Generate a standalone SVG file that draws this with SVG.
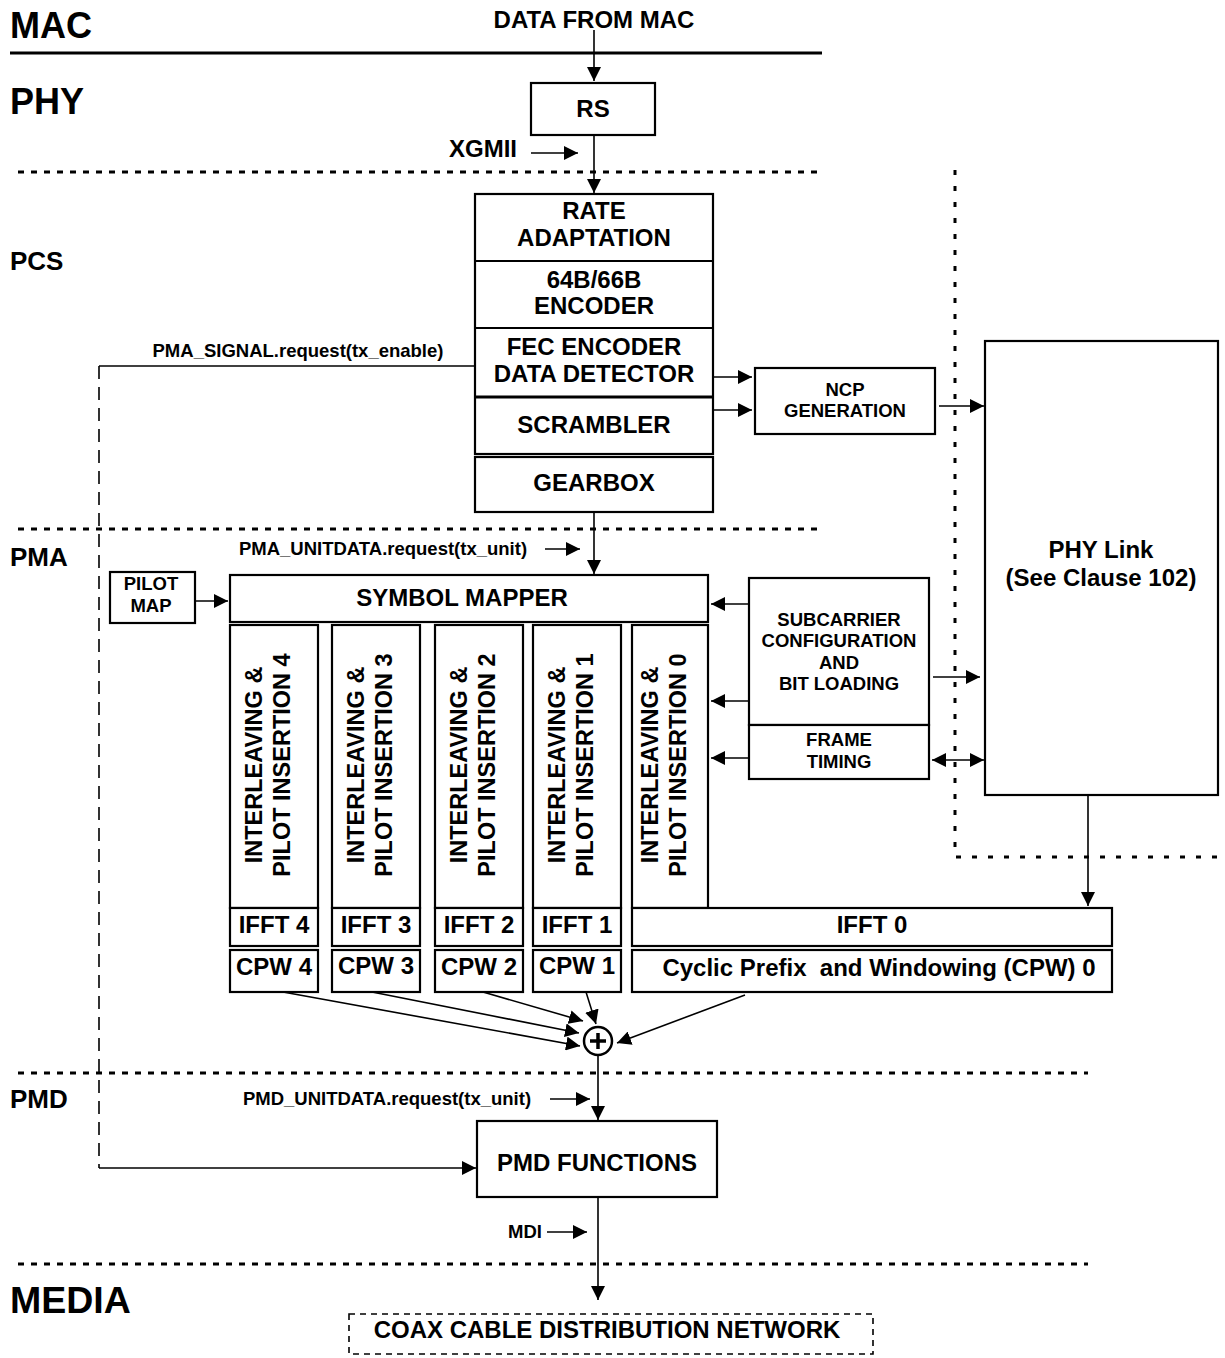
<svg xmlns="http://www.w3.org/2000/svg" width="1225" height="1358" viewBox="0 0 1225 1358">
<defs>
<marker id="ah" viewBox="0 0 10 10" refX="10" refY="5" markerWidth="14" markerHeight="14" markerUnits="userSpaceOnUse" orient="auto-start-reverse"><path d="M0,0 L10,5 L0,10 z" fill="#000"/></marker>
</defs>
<style>
text{font-family:"Liberation Sans",Arial,sans-serif;font-weight:bold;fill:#000}
.box{fill:#fff;stroke:#000;stroke-width:2.2}
.c{text-anchor:middle}
.ln{stroke:#000;stroke-width:1.6;fill:none}
.a{stroke:#000;stroke-width:1.6;fill:none;marker-end:url(#ah)}
.dot{stroke:#000;stroke-width:3;stroke-dasharray:6 7;fill:none}
.vdot{stroke:#000;stroke-width:3;stroke-dasharray:5 11;fill:none}
.big{font-size:36px}
.lay{font-size:26px}
.t22{font-size:24px}
.t16{font-size:18.5px}
.t15{font-size:18.5px}
.rot{font-size:23.5px}
</style>
<rect width="1225" height="1358" fill="#fff"/>
<g id="layers">
<text x="10" y="38" class="big">MAC</text>
<line x1="10" y1="53" x2="822" y2="53" stroke="#000" stroke-width="3"/>
<text x="10" y="114" class="big">PHY</text>
<line x1="18" y1="172" x2="822" y2="172" class="dot"/>
<text x="10" y="270" class="lay">PCS</text>
<line x1="18" y1="529" x2="822" y2="529" class="dot"/>
<text x="10" y="566" class="lay">PMA</text>
<line x1="18" y1="1073" x2="1088" y2="1073" class="dot"/>
<text x="10" y="1108" class="lay">PMD</text>
<line x1="18" y1="1264" x2="1088" y2="1264" class="dot"/>
<text x="10" y="1313" font-size="37.5">MEDIA</text>
<path d="M955,170 V857 H1218" class="vdot"/>
</g>
<g id="connectors">
<line x1="594" y1="30" x2="594" y2="81" class="a"/>
<line x1="594" y1="135" x2="594" y2="193" class="a"/>
<line x1="531" y1="153" x2="578" y2="153" class="a"/>
<path d="M475,366 H99" class="ln"/>
<line x1="99" y1="366" x2="99" y2="1168" stroke="#000" stroke-width="1.6" stroke-dasharray="13 8"/>
<line x1="99" y1="1168" x2="476" y2="1168" class="a"/>
<line x1="713" y1="377" x2="752" y2="377" class="a"/>
<line x1="713" y1="410" x2="752" y2="410" class="a"/>
<line x1="939" y1="406" x2="984" y2="406" class="a"/>
<line x1="594" y1="512" x2="594" y2="574" class="a"/>
<line x1="545" y1="549" x2="580" y2="549" class="a"/>
<line x1="195" y1="601" x2="228" y2="601" class="a"/>
<line x1="749" y1="604" x2="711" y2="604" class="a"/>
<line x1="749" y1="701" x2="711" y2="701" class="a"/>
<line x1="749" y1="758" x2="711" y2="758" class="a"/>
<line x1="933" y1="677" x2="980" y2="677" class="a"/>
<line x1="932" y1="760" x2="984" y2="760" class="a" marker-start="url(#ah)"/>
<line x1="1088" y1="795" x2="1088" y2="906" class="a"/>
<line x1="283" y1="992" x2="580" y2="1046" class="a"/>
<line x1="372" y1="992" x2="579" y2="1033" class="a"/>
<line x1="483" y1="992" x2="583" y2="1021" class="a"/>
<line x1="586" y1="992" x2="596" y2="1024" class="a"/>
<line x1="745" y1="995" x2="617" y2="1043" class="a"/>
<line x1="598" y1="1055" x2="598" y2="1120" class="a"/>
<line x1="550" y1="1099" x2="590" y2="1099" class="a"/>
<line x1="598" y1="1197" x2="598" y2="1300" class="a"/>
<line x1="547" y1="1232" x2="587" y2="1232" class="a"/>
</g>
<g id="labels">
<text x="594" y="28" class="c" font-size="24">DATA FROM MAC</text>
<text x="483" y="157" class="c" font-size="24">XGMII</text>
<text x="298" y="357" class="c t15">PMA_SIGNAL.request(tx_enable)</text>
<text x="383" y="555" class="c t15">PMA_UNITDATA.request(tx_unit)</text>
<text x="387" y="1105" class="c t15">PMD_UNITDATA.request(tx_unit)</text>
<text x="525" y="1238" class="c t15">MDI</text>
</g>
<g id="rs"><rect x="531" y="83" width="124" height="52" class="box"/><text x="593" y="117" class="c t22">RS</text></g>
<g id="pcs-stack">
<rect x="475" y="194" width="238" height="260" class="box"/>
<line x1="475" y1="261" x2="713" y2="261" stroke="#000" stroke-width="2"/>
<line x1="475" y1="328" x2="713" y2="328" stroke="#000" stroke-width="2"/>
<line x1="475" y1="397" x2="713" y2="397" stroke="#000" stroke-width="3"/>
<text x="594" y="219" class="c t22">RATE</text>
<text x="594" y="246" class="c t22">ADAPTATION</text>
<text x="594" y="288" class="c t22">64B/66B</text>
<text x="594" y="314" class="c t22">ENCODER</text>
<text x="594" y="355" class="c t22">FEC ENCODER</text>
<text x="594" y="382" class="c t22">DATA DETECTOR</text>
<text x="594" y="433" class="c t22">SCRAMBLER</text>
</g>
<g id="gearbox"><rect x="475" y="457" width="238" height="55" class="box"/><text x="594" y="491" class="c t22">GEARBOX</text></g>
<g id="ncp"><rect x="755" y="368" width="180" height="66" class="box"/><text x="845" y="396" class="c t16">NCP</text><text x="845" y="417" class="c t16">GENERATION</text></g>
<g id="phylink"><rect x="985" y="341" width="233" height="454" class="box"/><text x="1101" y="558" class="c t22">PHY Link</text><text x="1101" y="586" class="c t22">(See Clause 102)</text></g>
<g id="pilotmap"><rect x="110" y="572" width="85" height="51" class="box"/><text x="151" y="590" class="c t16">PILOT</text><text x="151" y="612" class="c t16">MAP</text></g>
<g id="symbolmapper"><rect x="230" y="575" width="478" height="47" class="box"/><text x="462" y="606" class="c t22">SYMBOL MAPPER</text></g>
<g id="subcarrier"><rect x="749" y="578" width="180" height="147" class="box"/>
<text x="839" y="626" class="c t16">SUBCARRIER</text><text x="839" y="647" class="c t16">CONFIGURATION</text><text x="839" y="669" class="c t16">AND</text><text x="839" y="690" class="c t16">BIT LOADING</text></g>
<g id="frametiming"><rect x="749" y="725" width="180" height="54" class="box"/><text x="839" y="746" class="c t16">FRAME</text><text x="839" y="768" class="c t16">TIMING</text></g>
<g id="il4"><rect x="230" y="625" width="88" height="283" class="box"/><g transform="translate(274,765) rotate(-90)"><text x="0" y="-12" class="c rot">INTERLEAVING &amp;</text><text x="0" y="16" class="c rot">PILOT INSERTION 4</text></g></g>
<g id="il3"><rect x="332" y="625" width="88" height="283" class="box"/><g transform="translate(376,765) rotate(-90)"><text x="0" y="-12" class="c rot">INTERLEAVING &amp;</text><text x="0" y="16" class="c rot">PILOT INSERTION 3</text></g></g>
<g id="il2"><rect x="435" y="625" width="88" height="283" class="box"/><g transform="translate(479,765) rotate(-90)"><text x="0" y="-12" class="c rot">INTERLEAVING &amp;</text><text x="0" y="16" class="c rot">PILOT INSERTION 2</text></g></g>
<g id="il1"><rect x="533" y="625" width="88" height="283" class="box"/><g transform="translate(577,765) rotate(-90)"><text x="0" y="-12" class="c rot">INTERLEAVING &amp;</text><text x="0" y="16" class="c rot">PILOT INSERTION 1</text></g></g>
<g id="il0"><rect x="632" y="625" width="76" height="283" class="box"/><g transform="translate(670,765) rotate(-90)"><text x="0" y="-12" class="c rot">INTERLEAVING &amp;</text><text x="0" y="16" class="c rot">PILOT INSERTION 0</text></g></g>
<g id="ifft4"><rect x="230" y="908" width="88" height="38" class="box"/><text x="274" y="933" class="c t22">IFFT 4</text></g>
<g id="cpw4"><rect x="230" y="950" width="88" height="42" class="box"/><text x="274" y="975" class="c t22">CPW 4</text></g>
<g id="ifft3"><rect x="332" y="908" width="88" height="38" class="box"/><text x="376" y="933" class="c t22">IFFT 3</text></g>
<g id="cpw3"><rect x="332" y="950" width="88" height="42" class="box"/><text x="376" y="974" class="c t22">CPW 3</text></g>
<g id="ifft2"><rect x="435" y="908" width="88" height="38" class="box"/><text x="479" y="933" class="c t22">IFFT 2</text></g>
<g id="cpw2"><rect x="435" y="950" width="88" height="42" class="box"/><text x="479" y="975" class="c t22">CPW 2</text></g>
<g id="ifft1"><rect x="533" y="908" width="88" height="38" class="box"/><text x="577" y="933" class="c t22">IFFT 1</text></g>
<g id="cpw1"><rect x="533" y="950" width="88" height="42" class="box"/><text x="577" y="974" class="c t22">CPW 1</text></g>
<g id="ifft0"><rect x="632" y="908" width="480" height="38" class="box"/><text x="872" y="933" class="c t22">IFFT 0</text></g>
<g id="cpw0"><rect x="632" y="950" width="480" height="42" class="box"/><text x="879" y="976" class="c t22" xml:space="preserve">Cyclic Prefix  and Windowing (CPW) 0</text></g>
<g id="sum"><circle cx="598" cy="1041" r="14" fill="#fff" stroke="#000" stroke-width="2.5"/><path d="M590,1041 H606 M598,1033 V1049" stroke="#000" stroke-width="3.5"/></g>
<g id="pmd"><rect x="477" y="1121" width="240" height="76" class="box"/><text x="597" y="1171" class="c t22">PMD FUNCTIONS</text></g>
<g id="coax"><rect x="349" y="1314" width="524" height="40" fill="none" stroke="#000" stroke-width="1.6" stroke-dasharray="6 5"/><text x="607" y="1338" class="c t22">COAX CABLE DISTRIBUTION NETWORK</text></g>
</svg>
